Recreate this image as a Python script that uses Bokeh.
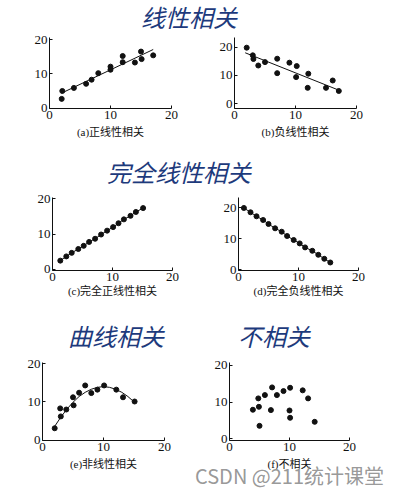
from bokeh.plotting import figure
from bokeh.layouts import column, row
from bokeh.models import Div, Range1d, FixedTicker, LinearAxis
from bokeh.embed import file_html
from bokeh.resources import INLINE

# ---------------- data ----------------
a_x = [2.0, 2.1, 4.0, 6.0, 6.9, 8.0, 10.0, 10.0, 12.0, 12.0, 14.0, 15.0, 15.1, 17.0]
a_y = [2.7, 5.0, 5.9, 7.1, 8.3, 10.2, 12.1, 11.2, 15.2, 13.4, 13.3, 16.5, 14.3, 15.4]
a_fit_x = [2.0, 17.0]
a_fit_y = [4.4, 17.1]

b_x = [2.0, 3.0, 3.1, 3.9, 5.0, 7.0, 7.0, 9.0, 10.2, 10.1, 12.1, 12.0, 15.0, 16.1, 17.1]
b_y = [19.8, 17.1, 15.8, 13.5, 14.7, 15.9, 10.8, 14.5, 13.3, 9.4, 10.6, 5.6, 5.6, 8.2, 4.5]
b_fit_x = [1.75, 17.2]
b_fit_y = [18.0, 4.7]

c_x = [1.3, 2.3, 3.2, 4.3, 5.2, 6.1, 7.1, 8.1, 9.1, 10.1, 11.0, 11.9, 13.0, 13.9, 15.1]
c_y = [2.5, 3.7, 4.7, 5.8, 6.7, 7.8, 8.7, 9.9, 11.0, 12.0, 13.1, 14.2, 15.2, 16.3, 17.4]

d_x = [0.9, 2.0, 3.0, 4.1, 5.0, 6.1, 7.2, 8.1, 9.2, 10.2, 11.1, 12.3, 13.3, 14.3, 15.3]
d_y = [20.0, 18.6, 17.3, 16.1, 14.8, 13.4, 12.3, 10.9, 9.6, 8.5, 7.2, 6.1, 4.8, 3.5, 2.3]

e_x = [2.0, 2.9, 3.0, 3.9, 5.0, 5.1, 6.0, 7.0, 8.0, 9.0, 10.1, 12.1, 13.2, 15.1]
e_y = [3.1, 8.3, 6.2, 8.0, 11.2, 9.1, 12.4, 14.3, 12.3, 13.2, 14.3, 13.2, 11.2, 10.1]
e_curve_x = [2, 3, 4, 5, 6, 7, 8, 9, 10, 11, 12, 13, 14, 15]
e_curve_y = [3.6, 6.0, 8.1, 9.9, 11.4, 12.5, 13.3, 13.8, 14.0, 13.8, 13.3, 12.5, 11.4, 10.0]

f_x = [3.9, 4.8, 4.9, 5.0, 5.9, 7.1, 6.9, 7.9, 9.0, 10.1, 10.0, 10.1, 12.2, 13.1, 14.2]
f_y = [7.9, 11.0, 8.7, 3.5, 11.9, 14.0, 7.8, 11.9, 13.0, 13.9, 7.7, 5.7, 13.2, 11.0, 4.6]

ticks = [0, 10, 20]
titles = ["线性相关", "完全线性相关", "曲线相关", "不相关"]
captions = ["(a)正线性相关", "(b)负线性相关", "(c)完全正线性相关", "(d)完全负线性相关",
            "(e)非线性相关", "(f)不相关"]
watermark = "CSDN @211统计课堂"

TICK_FONT = "Liberation Serif"
CAP_FONT = "'Liberation Serif', 'Noto Sans CJK SC'"
TITLE_COLOR = "#1d3a7c"
INK = "#111111"


def panel(w, h, left, right, top, bottom, yr, caption, cap_standoff):
    p = figure(width=w, height=h, min_border_left=left, min_border_right=right,
               min_border_top=top, min_border_bottom=bottom,
               x_range=Range1d(0, 20), y_range=Range1d(*yr),
               output_backend="svg", toolbar_location=None)
    p.grid.visible = False
    p.outline_line_color = None
    p.background_fill_color = "white"
    p.border_fill_color = "white"
    for ax in (p.xaxis[0], p.yaxis[0]):
        ax.ticker = FixedTicker(ticks=ticks)
        ax.minor_tick_line_color = None
        ax.major_tick_in = 3
        ax.major_tick_out = 0
        ax.axis_line_color = INK
        ax.major_tick_line_color = INK
        ax.major_label_text_font = TICK_FONT
        ax.major_label_text_font_size = "13px"
        ax.major_label_text_color = INK
        ax.major_label_standoff = 2
    p.xaxis.axis_label = caption
    p.xaxis.axis_label_text_font = CAP_FONT
    p.xaxis.axis_label_text_font_size = "11px"
    p.xaxis.axis_label_text_font_style = "normal"
    p.xaxis.axis_label_text_color = INK
    p.xaxis.axis_label_standoff = cap_standoff
    return p


def title_div(text, w, h, left, top):
    html = ('<div style="position:relative; left:%dpx; top:%dpx; white-space:nowrap; '
            'font-family:\'Noto Sans CJK SC\'; font-size:24px; font-style:italic; '
            'color:%s; line-height:%dpx;">%s</div>') % (left, top, TITLE_COLOR, h, text)
    return Div(text=html, width=w, height=h, margin=0)


# row 1
t1 = title_div(titles[0], 392, 30, 141, 2)
pa = panel(195, 130, 49, 24, 7, 52, (-0.1, 20.6), captions[0], 4)
pa.line(a_fit_x, a_fit_y, line_color=INK, line_width=1)
pa.scatter(a_x, a_y, size=5, color=INK)
pb = panel(197, 130, 39, 36, 7, 52, (-1.7, 23.4), captions[1], 4)
pb.line(b_fit_x, b_fit_y, line_color=INK, line_width=1)
pb.scatter(b_x, b_y, size=5, color=INK)

# row 2
t2 = title_div(titles[1], 392, 30, 107, -3)
pc = panel(195, 130, 52, 23, 7, 48, (-0.3, 20.4), captions[2], 1)
pc.line(c_x, c_y, line_color=INK, line_width=1)
pc.scatter(c_x, c_y, size=5, color=INK)
pd_ = panel(197, 130, 43, 34, 7, 50, (-0.3, 23.4), captions[3], 1)
pd_.line(d_x, d_y, line_color=INK, line_width=1)
pd_.scatter(d_x, d_y, size=5, color=INK)

# row 3
t3 = title_div(titles[2], 195, 35, 68, -2)
t4 = title_div(titles[3], 197, 35, 43, -2)
pe = panel(195, 137, 42, 31, 7, 50, (-0.1, 20.3), captions[4], 4)
pe.line(e_curve_x, e_curve_y, line_color=INK, line_width=1)
pe.scatter(e_x, e_y, size=5, color=INK)
pf = panel(197, 137, 34, 43, 7, 49, (-0.5, 20.8), captions[5], 4)
pf.scatter(f_x, f_y, size=5, color=INK)

# watermark drawn as the label of an otherwise invisible second bottom axis
wm_axis = LinearAxis(ticker=FixedTicker(ticks=[]), axis_line_color=None,
                     major_tick_line_color=None, minor_tick_line_color=None,
                     major_label_text_font_size="0px",
                     axis_label=watermark, axis_label_text_font="Noto Sans CJK SC",
                     axis_label_text_font_size="20px", axis_label_text_font_style="normal",
                     axis_label_text_color="#8c8c8c", axis_label_text_alpha=0.9,
                     axis_label_standoff=-12)
pf.add_layout(wm_axis, "below")

layout = column(
    t1,
    row(pa, pb, spacing=0),
    t2,
    row(pc, pd_, spacing=0),
    row(t3, t4, spacing=0),
    row(pe, pf, spacing=0),
    spacing=0,
)

open("out.html", "w").write(file_html(layout, INLINE))
